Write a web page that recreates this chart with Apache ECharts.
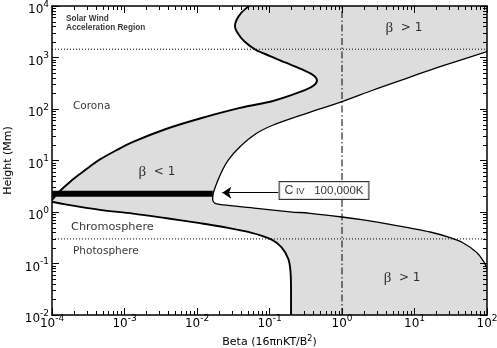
<!DOCTYPE html>
<html>
<head>
<meta charset="utf-8">
<script src="https://cdn.jsdelivr.net/npm/echarts@6/dist/echarts.min.js"></script>
<style>html,body{margin:0;padding:0;background:#fff;}</style>
</head>
<body>
<div id="main" style="width:497px;height:348px;"></div>
<script>
// lower beta bound, photosphere/chromosphere branch (bottom -> up)
var minLowBeta   = [0.198, 0.198, 0.195, 0.182, 0.147, 0.107, 0.0538, 0.0231, 0.0110, 0.00382, 0.00131, 0.000459, 0.000160, 0.0001];
var minLowHeight = [0.01, 0.035, 0.0684, 0.122, 0.205, 0.292, 0.402, 0.512, 0.607, 0.755, 0.931, 1.10, 1.39, 1.58];
// lower beta bound, coronal branch (left edge -> top)
var minUpBeta   = [0.0001, 0.000129, 0.000177, 0.000243, 0.000334, 0.000459, 0.000740, 0.00131, 0.00373, 0.0110, 0.0392, 0.112, 0.264, 0.398, 0.452, 0.398, 0.264, 0.164, 0.102, 0.0652, 0.0445, 0.0356, 0.0334, 0.0351, 0.0405, 0.0521];
var minUpHeight = [1.71, 2.56, 3.83, 5.47, 7.65, 10.5, 15.3, 22.9, 40.9, 65.4, 105, 143, 214, 280, 357, 457, 611, 800, 1069, 1400, 2089, 3126, 4000, 5346, 7310, 10000];
// upper beta bound (bottom right -> top right)
var maxBeta   = [100, 88.9, 72.1, 47.1, 30.9, 16.4, 5.68, 1.97, 1.0, 0.362, 0.192, 0.0665, 0.0231, 0.0177, 0.0165, 0.0168, 0.0187, 0.0219, 0.0270, 0.0392, 0.0665, 0.113, 0.326, 1.0, 2.70, 7.80, 22.5, 100];
var maxHeight = [0.08, 0.112, 0.164, 0.25, 0.318, 0.409, 0.545, 0.70, 0.80, 0.944, 1.01, 1.18, 1.37, 1.47, 1.71, 2.31, 3.61, 6.06, 10.2, 18.5, 33.7, 48.9, 82.5, 139, 234, 395, 663, 1297];

var betaRange = [1e-4, 100];
var heightRange = [0.01, 1e4];
var layerHeights = [1450, 0.3];   // dotted boundaries
var unityBeta = 1;
var civBeta = [1e-4, 0.0165];
var civHeight = 2.27;
var arrowBeta = [0.132, 0.0223];
var arrowHeight = 2.37;
var boxPoint = [0.565, 2.61];

var betaDecades = [1e-4, 1e-3, 1e-2, 1e-1, 1, 10];
var heightDecades = [1e-2, 1e-1, 1, 10, 100, 1000];
var minorSteps = [2, 3, 4, 5, 6, 7, 8, 9];

var notes = [
    {text: 'Solar Wind\nAcceleration Region', at: [1.56e-4, 4571], align: 'left', size: 8.2, weight: 'bold', font: 'Liberation Sans'},
    {text: 'Corona', at: [1.95e-4, 112], align: 'left', size: 10.5},
    {text: 'Chromosphere', at: [1.83e-4, 0.5], align: 'left', size: 11.3},
    {text: 'Photosphere', at: [1.95e-4, 0.171], align: 'left', size: 10.5},
    {text: '{g|β}{t|  < 1}', at: [0.0028, 5.98], align: 'center', size: 12},
    {text: '{g|β}{t|  > 1}', at: [7.16, 3743], align: 'center', size: 12},
    {text: '{g|β}{t|  > 1}', at: [6.73, 0.0522], align: 'center', size: 12}
];

var sans = 'DejaVu Sans';
var myChart = echarts.init(document.getElementById('main'));

function pow10(v) {
    var e = Math.round(Math.log(v) / Math.LN10);
    return '{b|10}{e|' + (e < 0 ? '-' + (-e) : e) + '}';
}
var powRich = {
    b: {fontFamily: sans, fontSize: 12, color: '#000', verticalAlign: 'bottom', lineHeight: 14},
    e: {fontFamily: sans, fontSize: 9, color: '#000', verticalAlign: 'bottom', lineHeight: 10, padding: [0, 0, 7, 0]}
};

function toPts(bs, hs, api) {
    return bs.map(function (b, i) { return api.coord([b, hs[i]]); });
}
function f(n) { return n.toFixed(2); }
// catmull-rom through the points, as bezier segments
function spline(p) {
    var d = '';
    for (var i = 0; i < p.length - 1; i++) {
        var p0 = p[i - 1] || p[i], p1 = p[i], p2 = p[i + 1], p3 = p[i + 2] || p2;
        d += ' C' + f(p1[0] + (p2[0] - p0[0]) / 6) + ' ' + f(p1[1] + (p2[1] - p0[1]) / 6) +
             ' ' + f(p2[0] - (p3[0] - p1[0]) / 6) + ' ' + f(p2[1] - (p3[1] - p1[1]) / 6) +
             ' ' + f(p2[0]) + ' ' + f(p2[1]);
    }
    return d;
}
function open(p) { return 'M' + f(p[0][0]) + ' ' + f(p[0][1]) + spline(p); }

function minorSeries(dim) {
    var decades = dim === 0 ? betaDecades : heightDecades;
    var vals = [];
    decades.forEach(function (d) { minorSteps.forEach(function (m) { vals.push(m * d); }); });
    return {
        type: 'custom', z: 7, silent: true, clip: false,
        data: vals.map(function (v) { return dim === 0 ? [v, 1] : [1, v]; }),
        renderItem: function (params, api) {
            var v = api.value(dim);
            var st = {stroke: '#000', lineWidth: 1};
            if (dim === 0) {
                var a = api.coord([v, heightRange[0]]), b = api.coord([v, heightRange[1]]);
                var x = Math.round(a[0]) + 0.5;
                return {type: 'group', children: [
                    {type: 'line', shape: {x1: x, y1: a[1], x2: x, y2: a[1] - 4}, style: st},
                    {type: 'line', shape: {x1: x, y1: b[1], x2: x, y2: b[1] + 4}, style: st}
                ]};
            }
            var l = api.coord([betaRange[0], v]), r = api.coord([betaRange[1], v]);
            var y = Math.round(l[1]) + 0.5;
            return {type: 'group', children: [
                {type: 'line', shape: {x1: l[0], y1: y, x2: l[0] + 4, y2: y}, style: st},
                {type: 'line', shape: {x1: r[0], y1: y, x2: r[0] - 4, y2: y}, style: st}
            ]};
        }
    };
}

function axisBase(pos, showLabel) {
    return {
        type: 'log', logBase: 10, splitNumber: 6, position: pos, z: 5,
        axisLine: {show: true, onZero: false, lineStyle: {color: '#000', width: 1.5}},
        axisTick: {show: true, inside: true, length: 7, lineStyle: {color: '#000', width: 1}},
        splitLine: {show: false},
        axisLabel: {show: showLabel, formatter: pow10, rich: powRich, color: '#000'}
    };
}

var xb = axisBase('bottom', true);
xb.min = betaRange[0]; xb.max = betaRange[1];
xb.axisLabel.margin = 1;
xb.name = '{n|Beta (16πnKT/B}{s|2}{n|)}';
xb.nameLocation = 'middle';
xb.nameGap = 19;
xb.nameTextStyle = {rich: {
    n: {fontFamily: sans, fontSize: 11, color: '#000', verticalAlign: 'bottom', lineHeight: 13},
    s: {fontFamily: sans, fontSize: 8, color: '#000', verticalAlign: 'bottom', lineHeight: 9, padding: [0, 0, 5, 0]}
}};
var xt = axisBase('top', false);
xt.min = betaRange[0]; xt.max = betaRange[1];

var yl = axisBase('left', true);
yl.min = heightRange[0]; yl.max = heightRange[1];
yl.axisLabel.margin = 3;
yl.axisLabel.padding = [6, 0, 0, 0];
yl.name = 'Height (Mm)';
yl.nameLocation = 'middle';
yl.nameGap = 36;
yl.nameTextStyle = {fontFamily: sans, fontSize: 11, color: '#000'};
var yr = axisBase('right', false);
yr.min = heightRange[0]; yr.max = heightRange[1];

var option = {
    animation: false,
    backgroundColor: '#fff',
    grid: {left: 52, right: 10, top: 6, bottom: 33, containLabel: false, outerBoundsMode: 'none'},
    xAxis: [xb, xt],
    yAxis: [yl, yr],
    series: [
        {
            // shaded band between the two beta bounds, and the bounds themselves
            type: 'custom', z: 2, silent: true, clip: true,
            data: [[1, 1]],
            renderItem: function (params, api) {
                var lo = toPts(minLowBeta, minLowHeight, api);
                var up = toPts(minUpBeta, minUpHeight, api);
                var mx = toPts(maxBeta, maxHeight, api);
                var rev = mx.slice().reverse();
                var tr = api.coord([betaRange[1], heightRange[1]]);
                var br = api.coord([betaRange[1], heightRange[0]]);
                var fill = open(lo) + ' L' + f(up[0][0]) + ' ' + f(up[0][1]) + spline(up) +
                    ' L' + f(tr[0]) + ' ' + f(tr[1]) +
                    ' L' + f(rev[0][0]) + ' ' + f(rev[0][1]) + spline(rev) +
                    ' L' + f(br[0]) + ' ' + f(br[1]) + ' Z';
                return {type: 'group', children: [
                    {type: 'path', shape: {pathData: fill}, style: {fill: '#dddddd', stroke: null}},
                    {type: 'path', shape: {pathData: open(lo)}, style: {fill: null, stroke: '#000', lineWidth: 1.9}},
                    {type: 'path', shape: {pathData: open(up)}, style: {fill: null, stroke: '#000', lineWidth: 1.9}},
                    {type: 'path', shape: {pathData: open(mx)}, style: {fill: null, stroke: '#000', lineWidth: 1.3}}
                ]};
            }
        },
        {
            type: 'line', z: 3, symbol: 'none', silent: true,
            data: [[betaRange[0], layerHeights[0]], [betaRange[1], layerHeights[0]]],
            lineStyle: {color: '#000', width: 1, type: [1, 2]}
        },
        {
            type: 'line', z: 3, symbol: 'none', silent: true,
            data: [[betaRange[0], layerHeights[1]], [betaRange[1], layerHeights[1]]],
            lineStyle: {color: '#000', width: 1, type: [1, 2]}
        },
        {
            type: 'line', z: 3, symbol: 'none', silent: true,
            data: [[unityBeta, heightRange[0]], [unityBeta, heightRange[1]]],
            lineStyle: {color: '#000', width: 1, type: [7, 2.5, 1.5, 2.5]}
        },
        {
            type: 'line', z: 4, symbol: 'none', silent: true,
            data: [[civBeta[0], civHeight], [civBeta[1], civHeight]],
            lineStyle: {color: '#000', width: 6, cap: 'butt'},
            markLine: {
                silent: true, symbol: ['none', 'arrow'], symbolSize: 9,
                label: {show: false},
                lineStyle: {color: '#000', width: 1, type: 'solid'},
                data: [[{coord: [arrowBeta[0], arrowHeight]}, {coord: [arrowBeta[1], arrowHeight]}]]
            }
        },
        {
            type: 'scatter', z: 8, symbolSize: 0, silent: true,
            data: [boxPoint],
            label: {
                show: true, position: 'inside',
                formatter: '{c|C}{s| IV}{n|   100,000K}',
                backgroundColor: '#fff', borderColor: '#000', borderWidth: 1,
                padding: [2, 5, 2, 5],
                rich: {
                    c: {fontFamily: 'Liberation Sans', fontSize: 12.5, lineHeight: 13, verticalAlign: 'bottom', color: '#000'},
                    s: {fontFamily: 'Liberation Sans', fontSize: 9, lineHeight: 9, verticalAlign: 'bottom', padding: [0, 0, 1, 0], color: '#000'},
                    n: {fontFamily: 'Liberation Sans', fontSize: 11.5, lineHeight: 11.5, verticalAlign: 'bottom', padding: [0, 0, 0.5, 0], color: '#000'}
                }
            }
        },
        {
            type: 'scatter', z: 8, symbolSize: 0, silent: true,
            data: notes.map(function (n) {
                return {
                    value: n.at,
                    label: {
                        formatter: n.text, align: n.align, fontSize: n.size,
                        fontWeight: n.weight || 'normal',
                        fontFamily: n.font || sans,
                        lineHeight: n.size + 1,
                        rich: {
                            g: {fontFamily: 'Liberation Serif', fontSize: 15, color: '#000'},
                            t: {fontFamily: sans, fontSize: 12, color: '#000'}
                        }
                    }
                };
            }),
            label: {show: true, position: 'inside', verticalAlign: 'middle', color: '#000'}
        },
        minorSeries(0),
        minorSeries(1)
    ]
};

myChart.setOption(option);
</script>
</body>
</html>
